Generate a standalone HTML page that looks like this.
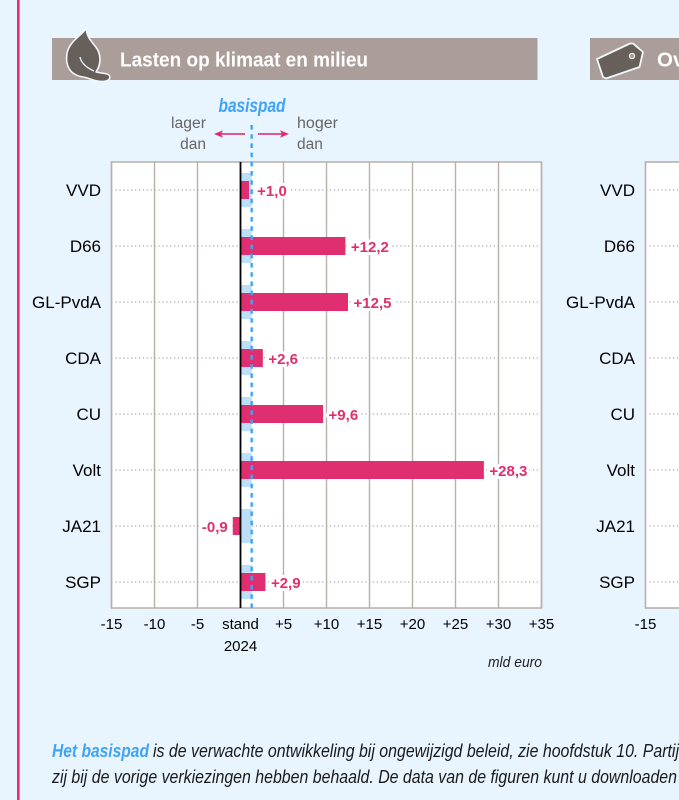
<!DOCTYPE html>
<html lang="nl">
<head>
<meta charset="utf-8">
<title>Lasten op klimaat en milieu</title>
<style>
html,body{margin:0;padding:0;width:679px;height:800px;overflow:hidden;background:#e8f4fe}
svg{display:block;font-family:"Liberation Sans",sans-serif}
</style>
</head>
<body>
<svg id="chart" xmlns="http://www.w3.org/2000/svg" width="679" height="800" viewBox="0 0 679 800">
  <rect x="0" y="0" width="679" height="800" fill="#e8f4fe"/>
  <rect x="17" y="0" width="2.6" height="800" fill="#df2f70"/>

  <rect x="52" y="38" width="485.500" height="42" fill="#ab9e9a"/>
  <path d="M86 28C83 35 70 40 67 53C65 66 70 75 83 77C90 78 97 83 106 81C111 80 111 75 107 74C103 73 100 73 96 72C100 66 101 60 99 53C97 45 87 41 86 28Z" fill="#665f5a" stroke="#f2f7fa" stroke-width="1.600" stroke-linejoin="round"/>
  <path d="M80 57C81 63 87 68 94 71" fill="none" stroke="#e8f4fe" stroke-width="1.300"/>
  <text x="120" y="66.500" font-size="20.500" font-weight="700" fill="#fff" textLength="248" lengthAdjust="spacingAndGlyphs">Lasten op klimaat en milieu</text>

  <rect x="590" y="38" width="89" height="42" fill="#ab9e9a"/>
  <path d="M597 59L630 43.500L633 43.500L643 52L639.500 67L606 78.500L603 77Z" fill="#665f5a" stroke="#f2f7fa" stroke-width="1.800" stroke-linejoin="round"/>
  <circle cx="632" cy="56" r="2.600" fill="#ab9e9a" stroke="#f2f7fa" stroke-width="1.200"/>
  <text x="657" y="66.500" font-size="20.500" font-weight="700" fill="#fff">Ov</text>

  <text x="252" y="112" font-size="19" font-weight="700" font-style="italic" fill="#3fa4f7" text-anchor="middle" textLength="67" lengthAdjust="spacingAndGlyphs">basispad</text>
  <text x="171" y="128" font-size="15.500" fill="#666" textLength="35" lengthAdjust="spacingAndGlyphs">lager</text>
  <text x="206" y="149" font-size="15.500" fill="#666" text-anchor="end">dan</text>
  <text x="297" y="128" font-size="15.500" fill="#666" textLength="41" lengthAdjust="spacingAndGlyphs">hoger</text>
  <text x="297" y="149" font-size="15.500" fill="#666">dan</text>
  <g fill="#df2f70">
    <rect x="218" y="133.200" width="27" height="1.600"/>
    <path d="M214 134L223 130.300L221 134L223 137.700Z"/>
  </g>
  <g fill="#df2f70">
    <rect x="258" y="133.200" width="27" height="1.600"/>
    <path d="M289 134L280 130.300L282 134L280 137.700Z"/>
  </g>

  <g id="plot"></g>
  <g id="plot2"></g>

  <text x="542" y="667" font-size="15" font-style="italic" fill="#222" text-anchor="end" textLength="54" lengthAdjust="spacingAndGlyphs">mld euro</text>

  <text x="52" y="757" font-size="18" font-weight="700" font-style="italic" fill="#3fa4f7" textLength="97" lengthAdjust="spacingAndGlyphs">Het basispad</text>
  <text x="153" y="757" font-size="18" font-style="italic" fill="#1a1a1a" textLength="526" lengthAdjust="spacingAndGlyphs">is de verwachte ontwikkeling bij ongewijzigd beleid, zie hoofdstuk 10. Partij</text>
  <text x="52" y="783" font-size="18" font-style="italic" fill="#1a1a1a" textLength="625" lengthAdjust="spacingAndGlyphs">zij bij de vorige verkiezingen hebben behaald. De data van de figuren kunt u downloaden</text>
</svg>

<script>
var parties = ["VVD", "D66", "GL-PvdA", "CDA", "CU", "Volt", "JA21", "SGP"];
var values = [1.0, 12.2, 12.5, 2.6, 9.6, 28.3, -0.9, 2.9];
var basispad = [1.3, 1.3, 1.3, 1.3, 1.3, 1.3, 1.3, 1.3];
var basispadLine = 1.3;
var xTicks = [-15, -10, -5, 0, 5, 10, 15, 20, 25, 30, 35];
var xTickLabels = ["-15", "-10", "-5", "stand", "+5", "+10", "+15", "+20", "+25", "+30", "+35"];
var secondTicks = [-15];
var secondTickLabels = ["-15"];

var NS = "http://www.w3.org/2000/svg";
var plot = document.getElementById("plot");
var plot2 = document.getElementById("plot2");

var PLOT_LEFT = 111.5, PLOT_RIGHT = 541.5, PLOT_TOP = 162, PLOT_BOTTOM = 608;
var ROW_START = 190, ROW_STEP = 56;
var X_MIN = -15, X_MAX = 35;
function xScale(v) {
  return PLOT_LEFT + (v - X_MIN) * (PLOT_RIGHT - PLOT_LEFT) / (X_MAX - X_MIN);
}
function yScale(i) {
  return ROW_START + ROW_STEP * i;
}
function mk(parent, tag, attrs, text) {
  var el = document.createElementNS(NS, tag);
  for (var k in attrs) { el.setAttribute(k, attrs[k]); }
  if (text !== undefined) { el.textContent = text; }
  parent.appendChild(el);
  return el;
}
function fmt(v) {
  return (v >= 0 ? "+" : "-") + Math.abs(v).toFixed(1).replace(".", ",");
}

var el;
el = mk(plot, "rect", {x: PLOT_LEFT, y: PLOT_TOP, width: PLOT_RIGHT - PLOT_LEFT, height: PLOT_BOTTOM - PLOT_TOP, fill: "#fff"});



xTicks.forEach(function (t, i) {
  if (t !== 0) {
    var g = mk(plot, "line", {x1: xScale(t), x2: xScale(t), y1: PLOT_TOP, y2: PLOT_BOTTOM, stroke: "#b9afab", "stroke-width": 1.4});
    
    
  }
  var lab = mk(plot, "text", {x: xScale(t), y: 629, "font-size": 15, fill: "#000", "text-anchor": "middle"}, xTickLabels[i]);
  
  
});

el = mk(plot, "text", {x: xScale(0), y: 651, "font-size": 15, fill: "#000", "text-anchor": "middle"}, "2024");



el = mk(plot, "path", {d: "M" + PLOT_LEFT + " " + PLOT_BOTTOM + "V" + PLOT_TOP + "H" + PLOT_RIGHT + "V" + PLOT_BOTTOM + "Z", fill: "none", stroke: "#b9afab", "stroke-width": 1.6});



parties.forEach(function (p, i) {
  var y = yScale(i);
  var d = mk(plot, "line", {x1: PLOT_LEFT + 4, x2: PLOT_RIGHT - 3, y1: y, y2: y, stroke: "#b5aaa6", "stroke-width": 1.2, "stroke-dasharray": "1.3 2.6"});
  
  

  var c = mk(plot, "text", {x: 101, y: y + 6, "font-size": 17, fill: "#000", "text-anchor": "end"}, p);
  
  

  var b = mk(plot, "rect", {x: xScale(0), y: y - 17, width: xScale(basispad[i]) - xScale(0), height: 34, fill: "#bde0fa"});
  
  
});

parties.forEach(function (p, i) {
  var y = yScale(i), v = values[i];
  var x0 = Math.min(xScale(0), xScale(v));
  var x1 = Math.max(xScale(0), xScale(v));
  var r = mk(plot, "rect", {x: x0, y: y - 9, width: x1 - x0, height: 18, fill: "#df2f70"});
  
  
});

el = mk(plot, "line", {x1: xScale(basispadLine), x2: xScale(basispadLine), y1: 125, y2: PLOT_BOTTOM, stroke: "#3fa4f7", "stroke-width": 2.4, "stroke-dasharray": "4.6 4.6"});



el = mk(plot, "line", {x1: xScale(0), x2: xScale(0), y1: PLOT_TOP, y2: PLOT_BOTTOM, stroke: "#000", "stroke-width": 1.8});



parties.forEach(function (p, i) {
  var y = yScale(i), v = values[i];
  var t = mk(plot, "text", {
    x: v >= 0 ? Math.max(xScale(v), xScale(basispad[i])) + 5.5 : xScale(v) - 5,
    y: y + 6,
    "font-size": 15,
    "font-weight": 700,
    fill: "#df2f70",
    "text-anchor": v >= 0 ? "start" : "end",
    stroke: "#fff",
    "stroke-width": 6,
    "paint-order": "stroke",
    "stroke-linejoin": "round"
  }, fmt(v));
  
  
});

/* second panel, cropped by the right edge of the page */
var P2_LEFT = 645.5;
function x2Scale(v) {
  return P2_LEFT + (v - X_MIN) * (PLOT_RIGHT - PLOT_LEFT) / (X_MAX - X_MIN);
}
el = mk(plot2, "rect", {x: x2Scale(X_MIN), y: PLOT_TOP, width: 679 - x2Scale(X_MIN) + 2, height: PLOT_BOTTOM - PLOT_TOP, fill: "#fff", stroke: "#b9afab", "stroke-width": 1.6});



parties.forEach(function (p, i) {
  var y = yScale(i);
  var d = mk(plot2, "line", {x1: x2Scale(X_MIN) + 4, x2: 679, y1: y, y2: y, stroke: "#b5aaa6", "stroke-width": 1.2, "stroke-dasharray": "1.3 2.6"});
  
  

  var c = mk(plot2, "text", {x: 635, y: y + 6, "font-size": 17, fill: "#000", "text-anchor": "end"}, p);
  
  
});

secondTicks.forEach(function (t, i) {
  var lab = mk(plot2, "text", {x: x2Scale(t), y: 629, "font-size": 15, fill: "#000", "text-anchor": "middle"}, secondTickLabels[i]);
  
  
});
</script>
</body>
</html>
